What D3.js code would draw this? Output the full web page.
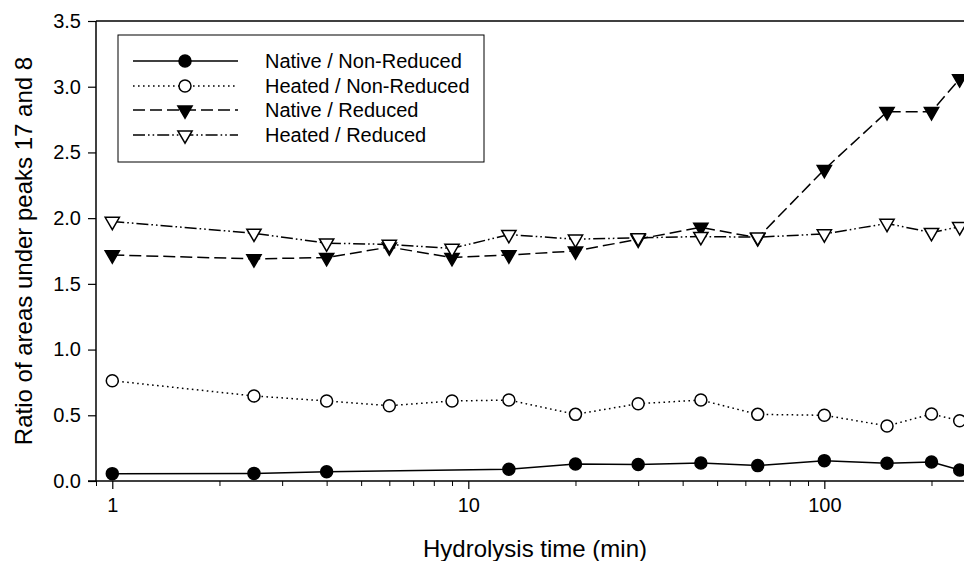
<!DOCTYPE html>
<html lang="en">
<head>
    <meta charset="UTF-8">
    <title>Ratio of areas vs hydrolysis time</title>
    <script src="https://d3js.org/d3.v7.min.js"></script>
    <style>
        body { margin: 0; background: #fff; }
        text { font-family: Arial, "Liberation Sans", sans-serif; fill: #000; }
    </style>
</head>
<body>

<div id="chart"></div>

<script>
    // Hydrolysis times (min) shared by all series
    const times = [1, 2.5, 4, 6, 9, 13, 20, 30, 45, 65, 100, 150, 200, 240];

    // Series values (null = no measurement)
    const nativeNonReduced = [0.056, 0.058, 0.07, null, null, 0.09, 0.13, 0.125, 0.137, 0.117, 0.155, 0.135, 0.145, 0.084];
    const heatedNonReduced = [0.763, 0.647, 0.609, 0.573, 0.609, 0.616, 0.507, 0.588, 0.616, 0.507, 0.50, 0.419, 0.51, 0.459];
    const nativeReduced    = [1.72, 1.69, 1.70, 1.78, 1.70, 1.72, 1.75, 1.84, 1.93, 1.85, 2.37, 2.81, 2.81, 3.06];
    const heatedReduced    = [1.975, 1.885, 1.81, 1.80, 1.77, 1.875, 1.84, 1.85, 1.86, 1.855, 1.88, 1.96, 1.89, 1.935];

    const seriesNames = ["Native / Non-Reduced", "Heated / Non-Reduced", "Native / Reduced", "Heated / Reduced"];
    const yTicks = [0, 0.5, 1.0, 1.5, 2.0, 2.5, 3.0, 3.5];
    const xMajorTicks = [1, 10, 100];
    const xMinorTicks = [0.9, 2, 3, 4, 5, 6, 7, 8, 9, 20, 30, 40, 50, 60, 70, 80, 90, 200];

    const width = 964;
    const height = 561;

    const x = d3.scaleLog().domain([0.9, 250]).range([96, 966]);
    const y = d3.scaleLinear().domain([0, 3.5]).range([481, 21]);

    const svg = d3.select("#chart")
        .append("svg")
        .attr("width", width)
        .attr("height", height);

    // styles per series
    const styles = [
        { values: nativeNonReduced, dash: null,               marker: "circle",   fill: "#000" },
        { values: heatedNonReduced, dash: "1.6,3.4",          marker: "circle",   fill: "#fff" },
        { values: nativeReduced,    dash: "12,5",             marker: "triangle", fill: "#000" },
        { values: heatedReduced,    dash: "12,3,1.6,3,1.6,3", marker: "triangle", fill: "#fff" }
    ];

    const triangle = d3.symbol().type(d3.symbolTriangle).size(88);

    function drawMarker(g, type, fill, cx, cy) {
        if (type === "circle") {
            g.append("circle")
                .attr("cx", cx).attr("cy", cy).attr("r", 6)
                .attr("fill", fill)
                .attr("stroke", "#000")
                .attr("stroke-width", 1.5);
        } else {
            g.append("path")
                .attr("d", triangle())
                .attr("transform", `translate(${cx},${cy}) rotate(180)`)
                .attr("fill", fill)
                .attr("stroke", "#000")
                .attr("stroke-width", 1.5);
        }
    }

    // axes frame: left and bottom axis, plus top line
    svg.append("line")
        .attr("x1", x(0.9)).attr("x2", width)
        .attr("y1", y(3.5)).attr("y2", y(3.5))
        .attr("stroke", "#000").attr("stroke-width", 1.5);

    const yAxis = svg.append("g")
        .attr("transform", `translate(${x(0.9)},0)`)
        .call(d3.axisLeft(y).tickValues(yTicks).tickFormat(d3.format(".1f")).tickSize(8).tickPadding(7));

    const xAxis = svg.append("g")
        .attr("transform", `translate(0,${y(0)})`)
        .call(d3.axisBottom(x).tickValues(xMajorTicks).tickFormat(d3.format("d")).tickSize(8).tickPadding(9));

    svg.append("g")
        .attr("transform", `translate(0,${y(0)})`)
        .call(d3.axisBottom(x).tickValues(xMinorTicks).tickFormat("").tickSize(5))
        .select(".domain").remove();

    [yAxis, xAxis].forEach(a => {
        a.select(".domain").attr("stroke-width", 1.5);
        a.selectAll(".tick line").attr("stroke-width", 1.2);
        a.selectAll("text").style("font-size", "20px").style("font-family", "Arial, 'Liberation Sans', sans-serif");
    });
    yAxis.select(".domain").attr("d", `M0,${y(3.5)}V${y(0)}`);
    xAxis.select(".domain").attr("d", `M${x(0.9) - 8},0H${width}`);

    // data lines and markers
    const line = d3.line()
        .x(d => x(d.t))
        .y(d => y(d.v));

    styles.forEach(s => {
        const pts = times.map((t, i) => ({ t: t, v: s.values[i] })).filter(d => d.v !== null);
        svg.append("path")
            .datum(pts)
            .attr("d", line)
            .attr("fill", "none")
            .attr("stroke", "#000")
            .attr("stroke-width", 1.5)
            .attr("stroke-dasharray", s.dash);
        const g = svg.append("g");
        pts.forEach(d => drawMarker(g, s.marker, s.fill, x(d.t), y(d.v)));
    });

    // legend
    const legend = svg.append("g");
    legend.append("rect")
        .attr("x", 118).attr("y", 35)
        .attr("width", 366).attr("height", 127)
        .attr("fill", "#fff")
        .attr("stroke", "#000").attr("stroke-width", 1);

    const rowY = [61, 86, 110, 135];
    styles.forEach((s, i) => {
        legend.append("line")
            .attr("x1", 133).attr("x2", 238)
            .attr("y1", rowY[i]).attr("y2", rowY[i])
            .attr("stroke", "#000")
            .attr("stroke-width", 1.5)
            .attr("stroke-dasharray", s.dash);
        drawMarker(legend, s.marker, s.fill, 185, rowY[i]);
        legend.append("text")
            .attr("x", 265).attr("y", rowY[i])
            .attr("dy", "0.35em")
            .style("font-size", "20px")
            .text(seriesNames[i]);
    });

    // axis titles
    svg.append("text")
        .attr("x", 535).attr("y", 557)
        .attr("text-anchor", "middle")
        .style("font-size", "24px")
        .text("Hydrolysis time (min)");

    svg.append("text")
        .attr("transform", `translate(32,${(y(0) + y(3.5)) / 2}) rotate(-90)`)
        .attr("text-anchor", "middle")
        .style("font-size", "24px")
        .text("Ratio of areas under peaks 17 and 8");
</script>

</body>
</html>
